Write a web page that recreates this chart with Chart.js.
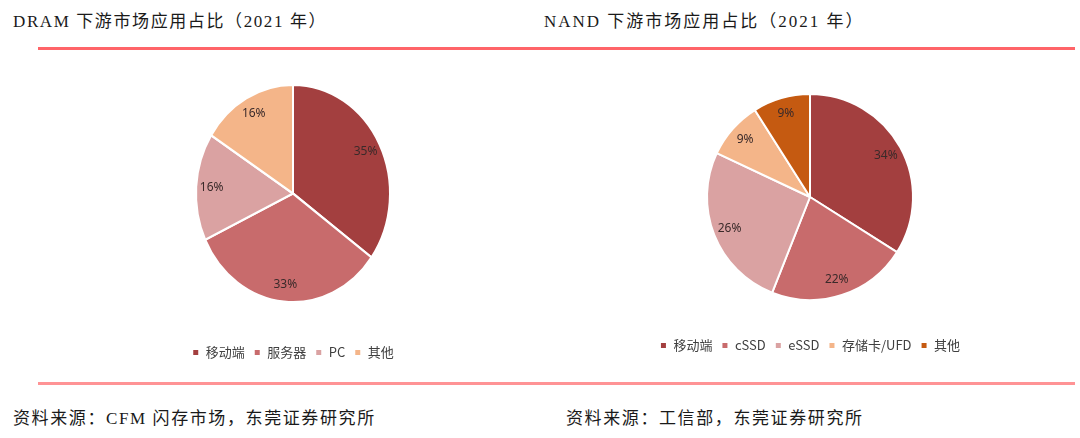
<!DOCTYPE html>
<html>
<head>
<meta charset="utf-8">
<script src="https://cdn.jsdelivr.net/npm/chart.js@4/dist/chart.umd.min.js"></script>
<style>
    body { margin: 0; width: 1080px; height: 438px; background: #fff; position: relative; overflow: hidden; }
    .titulo, .fonte {
        position: absolute; margin: 0; color: #1a1a1a; white-space: nowrap;
        font-family: "Liberation Serif", "Noto Sans CJK SC", serif;
        font-size: 17px; letter-spacing: 1.6px;
    }
    .linha { position: absolute; left: 38px; width: 1037px; }
    .box { position: absolute; }
</style>
</head>
<body>
<div class="titulo" style="left:13px; top:7px;">DRAM 下游市场应用占比（2021 年）</div>
<div class="titulo" style="left:544px; top:7px; letter-spacing:2px;">NAND 下游市场应用占比（2021 年）</div>
<div class="linha" style="top:47px; height:3px; background:#ff6468;"></div>
<div class="linha" style="top:382px; height:3px; background:#ff9395;"></div>
<div class="fonte" style="left:13px; top:404px;">资料来源：CFM 闪存市场，东莞证券研究所</div>
<div class="fonte" style="left:566px; top:404px;">资料来源：工信部，东莞证券研究所</div>

<div class="box" style="left:143px; top:50px; width:300px; height:319px;"><canvas id="grafico-dram"></canvas></div>
<div class="box" style="left:630px; top:64px; width:360px; height:298px;"><canvas id="grafico-nand"></canvas></div>

<script>
// ===== dados =====
const dramLabels = ['移动端', '服务器', 'PC', '其他'];
const dramValores = [35, 33, 16, 16];
const dramCores = ['#a33f3f', '#c86b6c', '#daa2a2', '#f4b589'];

const nandLabels = ['移动端', 'cSSD', 'eSSD', '存储卡/UFD', '其他'];
const nandValores = [34, 22, 26, 9, 9];
const nandCores = ['#a33f3f', '#c86b6c', '#daa2a2', '#f4b589', '#c55a11'];

// achata/estica a pizza na vertical (o gráfico DRAM original é oval)
// e escreve as porcentagens dentro das fatias
const pizzaPlugin = {
    id: 'pizzaOval',
    beforeDatasetsDraw(chart, args, opts) {
        const a = chart.chartArea;
        const cx = (a.left + a.right) / 2, cy = (a.top + a.bottom) / 2;
        chart.ctx.save();
        chart.ctx.translate(cx, cy);
        chart.ctx.scale(1, opts.escalaY || 1);
        chart.ctx.translate(-cx, -cy);
    },
    afterDatasetsDraw(chart, args, opts) {
        const ctx = chart.ctx;
        ctx.restore();
        const sy = opts.escalaY || 1;
        const meta = chart.getDatasetMeta(0);
        const valores = chart.data.datasets[0].data;
        ctx.save();
        ctx.font = '12px "Liberation Sans Narrow", "Noto Sans", sans-serif';
        ctx.fillStyle = '#3a2a2a';
        ctx.textAlign = 'center';
        ctx.textBaseline = 'middle';
        meta.data.forEach((arc, i) => {
            const p = arc.getProps(['x', 'y', 'startAngle', 'endAngle', 'outerRadius'], true);
            const meio = (p.startAngle + p.endAngle) / 2;
            const r = p.outerRadius * 0.84;
            ctx.fillText(valores[i] + '%', p.x + Math.cos(meio) * r, p.y + Math.sin(meio) * r * sy);
        });
        ctx.restore();
    }
};

function criarPizza(id, labels, valores, cores, raio, escalaY) {
    new Chart(document.getElementById(id), {
        type: 'pie',
        data: {
            labels: labels,
            datasets: [{
                data: valores,
                backgroundColor: cores,
                borderColor: '#fff',
                borderWidth: 2,
                radius: raio
            }]
        },
        options: {
            responsive: true,
            maintainAspectRatio: false,
            animation: false,
            layout: { padding: 0 },
            plugins: {
                pizzaOval: { escalaY: escalaY },
                legend: {
                    position: 'bottom',
                    labels: {
                        boxWidth: 7,
                        boxHeight: 7,
                        padding: 9,
                        color: '#404040',
                        font: { size: 13, family: '"Noto Sans CJK SC", "Noto Sans", sans-serif' }
                    }
                },
                tooltip: { enabled: false }
            }
        },
        plugins: [pizzaPlugin]
    });
}

criarPizza('grafico-dram', dramLabels, dramValores, dramCores, 97, 1.12);
criarPizza('grafico-nand', nandLabels, nandValores, nandCores, 103, 1);
</script>
</body>
</html>
